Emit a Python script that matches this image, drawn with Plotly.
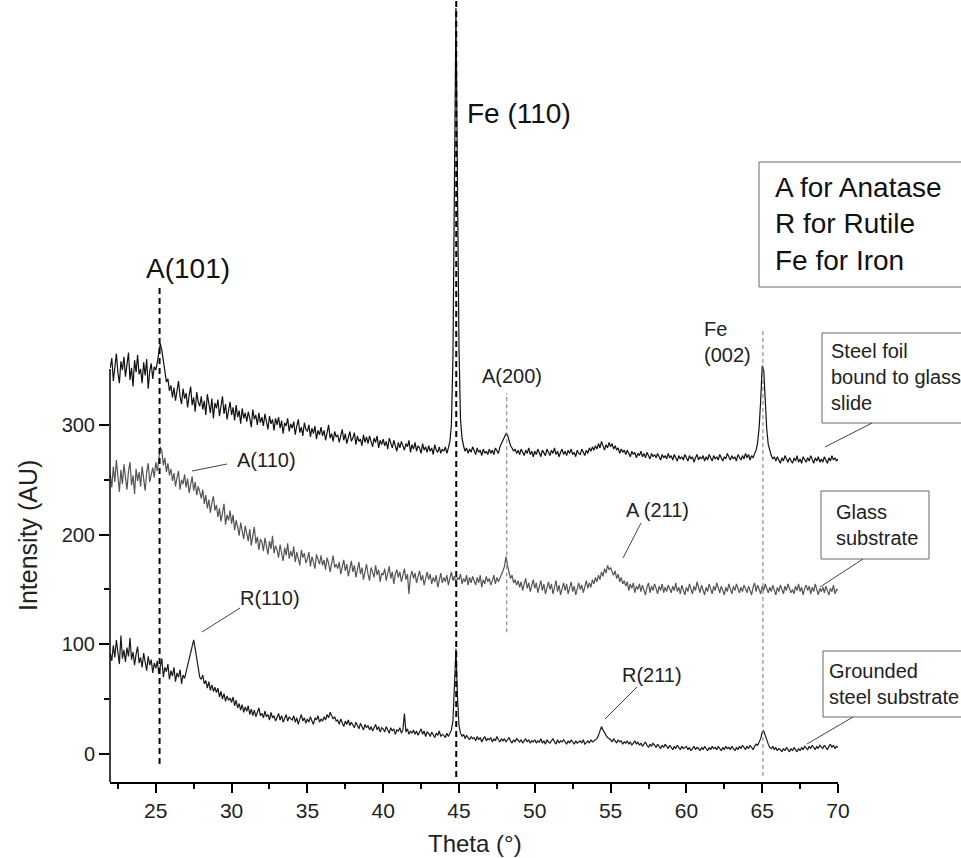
import plotly.graph_objects as go

# ---------------- data ----------------
theta_start, theta_step, n_pts = 22.0, 0.1, 481
theta = [round(theta_start + theta_step * i, 1) for i in range(n_pts)]

steel_foil = [
    352, 361, 340, 356, 365, 348, 338, 358, 350, 362,
    344, 355, 366, 341, 352, 335, 359, 348, 364, 346,
    351, 338, 357, 345, 360, 333, 349, 356, 342, 353,
    350, 357, 366, 374, 368, 360, 349, 339, 342, 331,
    336, 325, 334, 322, 331, 340, 326, 319, 333, 324,
    329, 316, 327, 335, 318, 325, 312, 330, 321, 317,
    326, 314, 322, 309, 328, 318, 311, 324, 306, 320,
    315, 323, 308, 317, 326, 310, 319, 305, 314, 321,
    309, 316, 304, 318, 307, 313, 301, 315, 306, 311,
    303, 312, 306, 298, 314, 305, 309, 300, 311, 302,
    307, 299, 310, 303, 296, 308, 301, 305, 295, 306,
    300, 307, 297, 304, 292, 302, 299, 306, 294, 301,
    297, 303, 291, 299, 305, 293, 298, 290, 302, 296,
    294, 300, 289, 297, 292, 299, 287, 295, 291, 298,
    290, 295, 286, 293, 300, 288, 292, 285, 294, 289,
    291, 284, 290, 296, 286, 292, 283, 289, 294, 285,
    288, 293, 282, 290, 285, 287, 281, 291, 284, 289,
    283, 290, 286, 280, 288, 284, 290, 279, 286, 282,
    287, 281, 285, 278, 288, 283, 279, 286, 282, 276,
    284, 279, 285, 281, 277, 283, 280, 286, 275, 282,
    278, 284, 276, 281, 279, 274, 283, 277, 280, 275,
    281, 276, 279, 273, 282, 277, 275, 280, 274, 278,
    276, 280, 274, 279, 285, 300, 360, 520, 680, 520,
    370, 305, 288, 281, 276, 279, 274, 278, 275, 280,
    276, 273, 279, 275, 277, 272, 278, 274, 276, 273,
    278, 274, 277, 273, 279, 276, 274, 280, 283, 286,
    289, 292, 291, 285, 281, 279, 276, 278, 274, 277,
    273, 278, 275, 272, 277, 274, 279, 273, 276, 271,
    276, 273, 278, 274, 271, 277, 275, 272, 278, 274,
    272, 277, 274, 279, 273, 276, 271, 275, 278, 273,
    276, 272, 277, 274, 278, 273, 275, 271, 277, 274,
    273, 278, 275, 272, 277, 274, 279, 276, 280, 277,
    281, 278, 283, 279, 285, 280, 277, 282, 279, 284,
    280, 283, 278, 281, 277, 279, 274, 278, 275, 277,
    273, 277, 274, 271, 276, 273, 275, 270, 274, 272,
    276, 271, 274, 270, 275, 272, 269, 274, 271, 273,
    270, 274, 271, 268, 273, 270, 272, 269, 274, 270,
    272, 268, 273, 270, 267, 272, 269, 271, 268, 273,
    270, 267, 272, 269, 271, 266, 270, 273, 268, 271,
    269, 272, 267, 271, 268, 273, 270, 267, 272, 269,
    271, 268, 273, 270, 267, 271, 269, 274, 270, 268,
    272, 269, 271, 267, 273, 270, 268, 272, 269, 274,
    270, 273, 268, 272, 270, 274, 277, 284, 298, 322,
    354, 350, 320, 296, 282, 276, 272, 269, 271, 267,
    271, 268, 265, 270, 267, 272, 268, 266, 270, 268,
    265, 270, 267, 272, 266, 269, 265, 271, 268, 266,
    270, 267, 272, 268, 265, 270, 267, 271, 266, 269,
    266, 271, 268, 265, 270, 267, 272, 268, 270, 267,
    269,
]

glass = [
    255, 243, 262, 248, 268, 251, 239, 259, 246, 264,
    250, 241, 258, 266, 245, 254, 237, 260, 249, 257,
    244, 262, 251, 240, 257, 265, 248, 255, 261, 252,
    266, 258, 272, 280, 276, 263, 270, 257, 265, 254,
    260, 249, 256, 244, 252, 258, 241, 250, 246, 255,
    243, 251, 238, 247, 253, 240, 248, 236, 244, 239,
    233, 241, 228, 236, 224, 232, 220, 229, 235, 222,
    227, 216, 224, 212, 221, 228, 209, 218, 213, 222,
    210, 218, 204, 213, 207, 199, 211, 203, 196, 208,
    201, 194, 205, 190, 199, 207, 192, 198, 186, 196,
    193, 185, 197, 189, 182, 194, 187, 199, 183, 190,
    186, 179, 191, 183, 176, 188, 181, 192, 178, 185,
    180, 189, 175, 184, 178, 172, 186, 179, 183, 174,
    178, 184, 171, 180, 175, 169, 182, 176, 173, 181,
    172, 177, 168, 179, 174, 166, 175, 181, 170, 173,
    169, 175, 164, 171, 177, 167, 173, 162, 170, 176,
    166, 172, 161, 168, 175, 164, 170, 159, 167, 173,
    164, 158, 170, 166, 161, 172, 163, 168, 157, 165,
    163, 169, 158, 165, 171, 160, 166, 155, 164, 168,
    161, 166, 157, 163, 169, 159, 164, 146, 162, 167,
    160, 165, 156, 162, 167, 158, 163, 154, 161, 166,
    159, 164, 155, 161, 157, 163, 152, 160, 165, 156,
    161, 157, 163, 154, 160, 166, 158, 162, 155, 161,
    159, 164, 155, 160, 157, 163, 154, 161, 156, 162,
    158, 154, 161, 156, 163, 152, 159, 155, 162, 157,
    160, 154, 158, 163, 155, 161, 157, 160, 164, 167,
    171, 180, 172, 166, 160, 163, 156, 159, 154, 158,
    152, 157, 149, 155, 160, 151, 156, 148, 154, 159,
    151, 156, 147, 153, 158, 149, 155, 146, 152, 157,
    150, 155, 146, 152, 158, 148, 154, 145, 151, 156,
    149, 155, 146, 152, 157, 148, 153, 145, 151, 156,
    150, 154, 147, 153, 158, 151, 156, 152, 159, 155,
    161, 157, 163, 159, 166, 162, 169, 165, 172, 168,
    170, 166, 163, 167, 160, 164, 157, 161, 155, 158,
    153, 157, 149, 155, 151, 156, 147, 153, 150, 155,
    148, 154, 150, 145, 152, 156, 147, 153, 149, 155,
    151, 146, 153, 149, 155, 147, 152, 148, 154, 150,
    147, 153, 149, 156, 148, 152, 146, 154, 150, 145,
    152, 148, 155, 150, 146, 153, 149, 157, 151, 147,
    154, 149, 145, 152, 148, 155, 150, 146, 153, 149,
    156, 151, 147, 153, 149, 145, 152, 148, 155, 150,
    146, 153, 149, 155, 150, 147, 152, 148, 154, 151,
    147, 153, 149, 145, 152, 156, 148, 154, 150, 146,
    153, 149, 155, 151, 147, 152, 148, 154, 150, 145,
    152, 148, 154, 150, 146, 153, 149, 155, 151, 147,
    150, 146, 153, 149, 155, 148, 152, 145, 151, 154,
    149, 153, 146, 152, 148, 155, 150, 145, 151, 148,
    152, 147, 153, 149, 145, 151, 148, 154, 146, 150,
    149,
]

grounded_steel = [
    92, 85, 99, 88, 104, 90, 82, 108, 87, 95,
    84, 97, 89, 106, 86, 93, 81, 91, 98, 83,
    88, 79, 92, 84, 76, 89, 81, 86, 74, 83,
    78, 85, 73, 80, 87, 70, 79, 75, 82, 68,
    76, 71, 79, 66, 74, 70, 77, 64, 72, 69,
    75, 80, 85, 91, 98, 104, 96, 86, 76, 70,
    68, 72, 64, 67, 60, 66, 58, 63, 57, 61,
    56, 60, 52, 57, 50, 55, 48, 53, 49, 51,
    47, 52, 44, 49, 42, 46, 40, 45, 38, 43,
    39, 44, 36, 41, 35, 40, 34, 38, 42, 35,
    37, 33, 39, 34, 36, 31, 38, 33, 35, 30,
    34, 37, 31, 35, 29, 33, 36, 30, 34, 32,
    31, 35, 29, 33, 27, 32, 36, 30, 33, 28,
    32, 29, 34, 30, 27, 33, 31, 35, 29, 32,
    30, 34, 31, 36, 33, 38, 35, 32, 34, 30,
    31, 27, 32, 29, 25, 30, 27, 31, 26, 29,
    27, 24, 29, 26, 23, 28, 25, 22, 27, 24,
    26, 22, 25, 21, 24, 27, 22, 25, 20, 24,
    23, 20, 25, 22, 19, 24, 21, 23, 18, 22,
    21, 24, 19, 22, 37, 20, 23, 18, 21, 19,
    22, 18, 21, 17, 20, 23, 18, 21, 16, 20,
    19, 16, 20, 17, 15, 19, 17, 21, 16, 18,
    17, 15, 19, 16, 20, 22, 30, 62, 96, 52,
    26, 19, 16, 18, 14, 17, 15, 13, 16, 14,
    15, 12, 16, 13, 15, 11, 14, 16, 12, 14,
    13, 15, 11, 14, 12, 16, 13, 11, 14, 12,
    14, 11, 13, 15, 12, 10, 13, 11, 14, 12,
    11, 13, 10, 12, 14, 11, 13, 10, 12, 11,
    13, 10, 12, 11, 14, 10, 12, 9, 13, 11,
    10, 12, 14, 11, 9, 13, 10, 12, 11, 13,
    11, 9, 12, 10, 13, 11, 9, 12, 10, 11,
    12, 10, 13, 9, 11, 12, 10, 13, 11, 12,
    13, 14, 17, 21, 25, 22, 19, 17, 15, 14,
    13, 11, 14, 12, 10, 13, 11, 12, 9, 11,
    10, 12, 9, 11, 8, 10, 12, 9, 11, 8,
    10, 7, 9, 11, 8, 6, 9, 7, 10, 8,
    6, 9, 7, 5, 8, 6, 9, 7, 5, 8,
    6, 4, 7, 5, 8, 6, 4, 7, 5, 6,
    7, 4, 6, 3, 5, 7, 4, 6, 5, 3,
    6, 4, 7, 5, 3, 6, 4, 7, 5, 6,
    4, 7, 5, 3, 6, 4, 7, 5, 6, 4,
    7, 5, 3, 6, 4, 7, 5, 8, 6, 4,
    7, 5, 8, 6, 4, 7, 9, 8, 11, 14,
    20, 21, 17, 12, 9, 6, 5, 7, 4, 6,
    3, 5, 4, 2, 5, 3, 6, 4, 2, 5,
    3, 6, 4, 2, 5, 3, 6, 4, 7, 5,
    4, 7, 5, 8, 6, 4, 7, 5, 8, 6,
    5, 8, 6, 4, 7, 9, 6, 8, 5, 7,
    6,
]

x_tick_vals = [25, 30, 35, 40, 45, 50, 55, 60, 65, 70]
x_minor_vals = [22.5, 27.5, 32.5, 37.5, 42.5, 47.5, 52.5, 57.5, 62.5, 67.5]
y_tick_vals = [0, 100, 200, 300]
y_minor_vals = [50, 150, 250]

# peak marker lines: (theta, y from, y to, style)
peak_markers = [
    (25.25, -9, 427, "thick"),    # A(101)
    (44.82, -21, 700, "thick"),   # Fe(110)
    (48.15, 111, 329, "thin"),    # A(200)
    (65.05, -20, 386, "thin"),    # Fe(002)
]

# ---------------- layout geometry ----------------
W, H = 961, 858
ML, MR, MT, MB = 110, 123, 0, 76
PW, PH = W - ML - MR, H - MT - MB
X_RANGE = [21.98, 70.0]
Y_RANGE = [-25.5, 687.3]
FONT = "Liberation Sans, Arial, Helvetica, sans-serif"


def px(x):
    return (x - ML) / PW


def py(y):
    return (H - MB - y) / PH


fig = go.Figure()
fig.add_trace(go.Scatter(x=theta, y=steel_foil, mode="lines",
                         line=dict(color="#111111", width=1.2), name="Steel foil"))
fig.add_trace(go.Scatter(x=theta, y=glass, mode="lines",
                         line=dict(color="#555555", width=1.2), name="Glass"))
fig.add_trace(go.Scatter(x=theta, y=grounded_steel, mode="lines",
                         line=dict(color="#1a1a1a", width=1.2), name="Grounded steel"))

shapes = []
for xv, y0, y1, style in peak_markers:
    if style == "thick":
        ln = dict(color="black", width=2, dash="6px,4px")
    else:
        ln = dict(color="#777777", width=1, dash="4px,3px")
    shapes.append(dict(type="line", xref="x", yref="y", x0=xv, x1=xv,
                       y0=y0, y1=y1, line=ln, layer="above"))

# left axis line (only drawn up to the top trace start in the original)
shapes.append(dict(type="line", xref="paper", yref="y", x0=0, x1=0,
                   y0=Y_RANGE[0], y1=351, line=dict(color="black", width=1.5)))

# boxes (pixel positions)
boxes = [
    (759, 990, 162, 287),   # legend
    (822, 990, 333, 423),   # steel foil
    (821, 929, 491, 559),   # glass
    (823, 990, 651, 717),   # grounded
]
for x0, x1, y0, y1 in boxes:
    shapes.append(dict(type="rect", xref="paper", yref="paper",
                       x0=px(x0), x1=px(x1), y0=py(y1), y1=py(y0),
                       line=dict(color="#666666", width=1)))

# leader lines (pixel positions)
leaders = [
    (192, 471, 227, 464),   # A(110)
    (641, 523, 623, 558),   # A(211)
    (240, 608, 202, 632),   # R(110)
    (637, 687, 605, 719),   # R(211)
    (872, 423, 825, 447),   # steel foil box
    (863, 559, 820, 587),   # glass box
    (853, 717, 807, 744),   # grounded box
]
for x0, y0, x1, y1 in leaders:
    shapes.append(dict(type="line", xref="paper", yref="paper",
                       x0=px(x0), y0=py(y0), x1=px(x1), y1=py(y1),
                       line=dict(color="#444444", width=1)))

annotations = []


def label(text, x, y, size, xanchor="center", align="center", color="#111111", angle=0):
    annotations.append(dict(text=text, xref="paper", yref="paper", x=px(x), y=py(y),
                            xanchor=xanchor, yanchor="middle", align=align,
                            showarrow=False, textangle=angle,
                            font=dict(family=FONT, size=size, color=color)))


label("A(101)", 188, 268, 28)
label("Fe (110)", 465, 114, 28, xanchor="left")
label("A for Anatase<br>R for Rutile<br>Fe for Iron", 773, 224, 28, xanchor="left", align="left")
label("Fe<br>(002)", 702, 342, 20, xanchor="left", align="left", color="#222222")
label("Steel foil<br>bound to glass<br>slide", 829, 377, 20, xanchor="left", align="left", color="#222222")
label("A(200)", 512, 376, 20, color="#222222")
label("A(110)", 266, 460, 20, color="#222222")
label("A (211)", 657, 510, 20, color="#222222")
label("Glass<br>substrate", 834, 525, 20, xanchor="left", align="left", color="#222222")
label("R(110)", 270, 598, 20, color="#222222")
label("R(211)", 652, 675, 20, color="#222222")
label("Grounded<br>steel substrate", 827, 684, 20, xanchor="left", align="left", color="#222222")
label("Theta (°)", 475, 843, 24, color="#222222")
label("Intensity (AU)", 28, 536, 25, color="#222222", angle=-90)

fig.update_layout(
    width=W, height=H,
    margin=dict(l=ML, r=MR, t=MT, b=MB),
    paper_bgcolor="white", plot_bgcolor="white",
    showlegend=False,
    shapes=shapes,
    annotations=annotations,
    xaxis=dict(range=X_RANGE, showgrid=False, zeroline=False,
               showline=True, linecolor="black", linewidth=2,
               ticks="outside", ticklen=9, tickwidth=1.5, tickcolor="black",
               tickvals=x_tick_vals, ticktext=[str(v) for v in x_tick_vals],
               tickfont=dict(family=FONT, size=21, color="#222222"),
               minor=dict(tickvals=x_minor_vals, ticks="outside", ticklen=5,
                          tickwidth=1.5, tickcolor="black")),
    yaxis=dict(range=Y_RANGE, showgrid=False, zeroline=False, showline=False,
               ticks="outside", ticklen=10, tickwidth=1.5, tickcolor="black",
               tickvals=y_tick_vals, ticktext=[str(v) for v in y_tick_vals],
               tickfont=dict(family=FONT, size=20, color="#222222"),
               minor=dict(tickvals=y_minor_vals, ticks="outside", ticklen=5,
                          tickwidth=1.5, tickcolor="black")),
)

fig.write_html("out.html")
